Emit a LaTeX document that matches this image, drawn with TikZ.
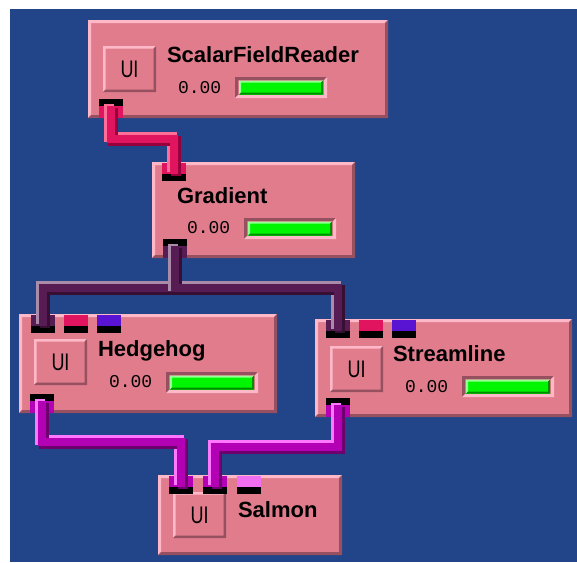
\documentclass[tikz,border=0pt]{standalone}
\usepackage{fontspec}
\setmainfont{Liberation Sans}
\setmonofont{Liberation Mono}
\usepackage{graphicx}
\definecolor{bgblue}{RGB}{34,69,138}
\definecolor{modpink}{RGB}{224,124,140}
\definecolor{modlight}{RGB}{255,184,200}
\definecolor{moddark}{RGB}{150,80,95}
\definecolor{barlight}{RGB}{150,255,150}
\definecolor{bargreen}{RGB}{0,245,0}
\definecolor{bardark}{RGB}{0,140,0}
\definecolor{fieldmain}{RGB}{225,20,95}
\definecolor{fieldlight}{RGB}{255,110,150}
\definecolor{fielddark}{RGB}{150,0,60}
\definecolor{vecmain}{RGB}{88,28,85}
\definecolor{veclight}{RGB}{170,140,170}
\definecolor{vecdark}{RGB}{55,15,50}
\definecolor{geommain}{RGB}{180,0,180}
\definecolor{geomlight}{RGB}{255,120,255}
\definecolor{geomdark}{RGB}{110,0,110}
\definecolor{colorport}{RGB}{88,20,210}
\definecolor{geomport}{RGB}{240,110,240}
\newcommand{\bevel}[4]{%
  \fill[#2] (#1.south west) -- (#1.north west) -- (#1.north east)
    -- ([shift={(-#4pt,-#4pt)}]#1.north east) -- ([shift={(#4pt,-#4pt)}]#1.north west)
    -- ([shift={(#4pt,#4pt)}]#1.south west) -- cycle;
  \fill[#3] (#1.south west) -- (#1.south east) -- (#1.north east)
    -- ([shift={(-#4pt,-#4pt)}]#1.north east) -- ([shift={(-#4pt,#4pt)}]#1.south east)
    -- ([shift={(#4pt,#4pt)}]#1.south west) -- cycle;}
\newcommand{\modbody}[5]{%
  \node[module, minimum width=#4, minimum height=#5] (#1) at (#2,#3) {};
  \bevel{#1}{modlight}{moddark}{3}}
\newcommand{\uibutton}[2]{%
  \node[uibox] (#1-ui) at ([shift={(15pt,-#2pt)}]#1.north west) {\scalebox{0.75}[1]{UI}};
  \bevel{#1-ui}{modlight}{moddark}{2.5}}
\newcommand{\meter}[3]{%
  \node[meterbox] (#1-meter) at ([shift={(#2pt,-#3pt)}]#1.north west) {};
  \bevel{#1-meter}{moddark}{modlight}{3}
  \node[bar] (#1-bar) at (#1-meter) {};
  \bevel{#1-bar}{barlight}{bardark}{2}}
\newcommand{\inport}[4]{%
  \node[portbar, anchor=north west] (#1) at ([shift={(#3pt,-12pt)}]#2.north west) {};
  \fill[#4] (#1.north west) rectangle ([yshift=11pt]#1.north east);}
\newcommand{\outport}[3]{%
  \node[portbar, anchor=south west] (#1) at ([shift={(11pt,12pt)}]#2.south west) {};
  \fill[#3] (#1.south west) rectangle ([yshift=-12pt]#1.south east);}
\newcommand{\pipe}[4]{%
  \begin{scope}[transform canvas={shift={(-2pt,2pt)}}]\draw[pipeline, draw=#2] #4;\end{scope}
  \begin{scope}[transform canvas={shift={(2pt,-2pt)}}]\draw[pipeline, draw=#3] #4;\end{scope}
  \draw[pipeline, draw=#1, line width=7.5pt] #4;}
\tikzset{
  module/.style={fill=modpink, anchor=north west},
  uibox/.style={fill=modpink, anchor=north west, minimum width=53, minimum height=46, font=\fontsize{24}{24}\selectfont},
  title/.style={anchor=base west, font=\fontsize{22}{22}\selectfont\bfseries},
  value/.style={anchor=base west, font=\fontsize{18}{18}\selectfont\ttfamily},
  meterbox/.style={fill=modpink, anchor=north west, minimum width=92, minimum height=21},
  bar/.style={fill=bargreen, minimum width=84, minimum height=14},
  portbar/.style={fill=black, minimum width=24, minimum height=7},
  pipeline/.style={line width=10pt, line join=miter}
}
\begin{document}
\begin{tikzpicture}[x=1pt, y=-1pt, every node/.style={inner sep=0pt, outer sep=0pt}]
\fill[white] (0,0) rectangle (577,562);
\fill[bgblue] (10,9) rectangle (577,562);

\modbody{sfr}{88}{20}{300}{98}
\uibutton{sfr}{26}
\node[title] (sfr-title) at ([shift={(79pt,-42pt)}]sfr.north west) {ScalarFieldReader};
\node[value] (sfr-value) at ([shift={(90pt,-73pt)}]sfr.north west) {0.00};
\meter{sfr}{147}{57}
\outport{sfr-out}{sfr}{fieldmain}

\modbody{grad}{152}{162}{203}{96}
\node[title] (grad-title) at ([shift={(25pt,-41pt)}]grad.north west) {Gradient};
\node[value] (grad-value) at ([shift={(35pt,-71pt)}]grad.north west) {0.00};
\meter{grad}{92}{56}
\inport{grad-in}{grad}{10}{fieldmain}
\outport{grad-out}{grad}{vecmain}

\modbody{hedge}{19}{314}{258}{99}
\uibutton{hedge}{25}
\node[title] (hedge-title) at ([shift={(79pt,-42pt)}]hedge.north west) {Hedgehog};
\node[value] (hedge-value) at ([shift={(90pt,-73pt)}]hedge.north west) {0.00};
\meter{hedge}{147}{58}
\inport{hedge-in1}{hedge}{12}{vecmain}
\inport{hedge-in2}{hedge}{45}{fieldmain}
\inport{hedge-in3}{hedge}{78}{colorport}
\outport{hedge-out}{hedge}{geommain}

\modbody{stream}{315}{319}{257}{98}
\uibutton{stream}{27}
\node[title] (stream-title) at ([shift={(78pt,-42pt)}]stream.north west) {Streamline};
\node[value] (stream-value) at ([shift={(90pt,-73pt)}]stream.north west) {0.00};
\meter{stream}{147}{57}
\inport{stream-in1}{stream}{11}{vecmain}
\inport{stream-in2}{stream}{44}{fieldmain}
\inport{stream-in3}{stream}{77}{colorport}
\outport{stream-out}{stream}{geommain}

\modbody{salmon}{158}{475}{184}{80}
\uibutton{salmon}{17}
\node[title] (salmon-title) at ([shift={(80pt,-42pt)}]salmon.north west) {Salmon};
\inport{salmon-in1}{salmon}{11}{geommain}
\inport{salmon-in2}{salmon}{45}{geommain}
\inport{salmon-in3}{salmon}{79}{geomport}

\pipe{fieldmain}{fieldlight}{fielddark}{(sfr-out.south) -- ++(0,33) -| (grad-in.north)}
\pipe{vecmain}{veclight}{vecdark}{(grad-out.south) -- ++(0,42) -| (hedge-in1.north)}
\pipe{vecmain}{veclight}{vecdark}{(grad-out.south) -- ++(0,42) -| (stream-in1.north)}
\pipe{geommain}{geomlight}{geomdark}{(hedge-out.south) -- ++(0,41) -| (salmon-in1.north)}
\pipe{geommain}{geomlight}{geomdark}{(stream-out.south) -- ++(0,42) -| (salmon-in2.north)}
\end{tikzpicture}
\end{document}
